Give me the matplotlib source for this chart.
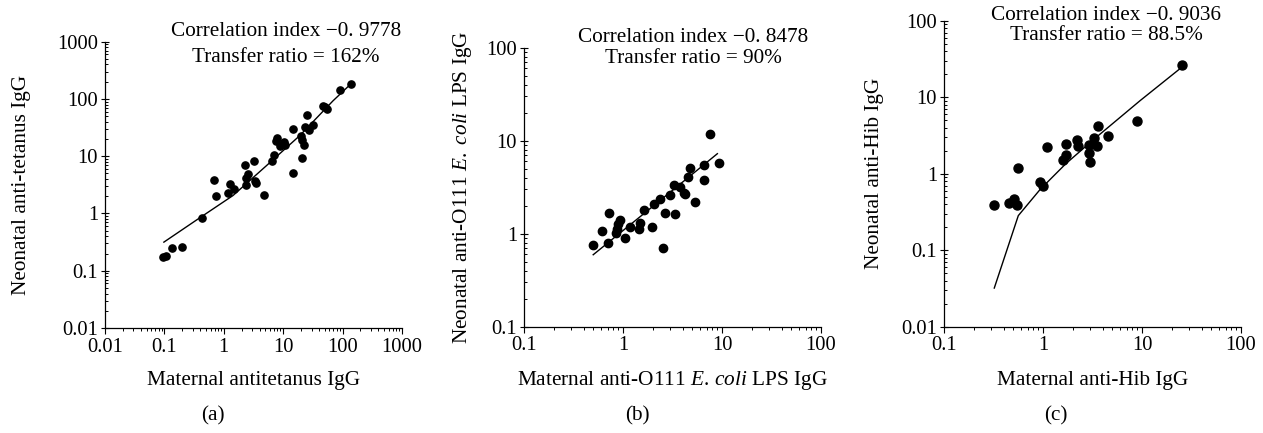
import numpy as np
import matplotlib
matplotlib.use("Agg")
import matplotlib.pyplot as plt
from matplotlib.ticker import LogLocator, NullFormatter

plt.rcParams['font.family'] = ['Liberation Serif', 'DejaVu Serif']
plt.rcParams['mathtext.fontset'] = 'custom'
plt.rcParams['mathtext.rm'] = 'Liberation Serif'
plt.rcParams['mathtext.it'] = 'Liberation Serif:italic'

# (a) tetanus
tet_mat = [0.095, 0.108, 0.136, 0.196, 0.43, 0.69, 0.73, 1.18, 1.26, 1.49,
           2.26, 2.32, 2.38, 2.57, 3.25, 3.33, 3.46, 4.72, 6.5, 7.05,
           7.5, 8.0, 8.8, 9.75, 10.2, 10.7, 14.7, 14.7, 19.8, 20.4,
           20.6, 22.3, 23.2, 25.3, 27.0, 32.1, 46, 50.2, 54.5, 90, 141]
tet_neo = [0.175, 0.18, 0.245, 0.255, 0.82, 3.8, 2.03, 2.3, 3.25, 2.66,
           6.9, 4.1, 3.1, 4.85, 8.3, 3.66, 3.43, 2.09, 8.2, 10.5,
           18.5, 20.9, 14.9, 16.2, 17.8, 15.5, 30.3, 5.1, 22.4, 19.0,
           9.2, 15.8, 32.5, 51.9, 29.2, 34.8, 76.5, 72.4, 67.8, 141, 180]
tet_fit_x = [0.098, 0.394, 1.43, 5.24, 19.0, 69.1, 137]
tet_fit_y = [0.316, 0.84, 2.06, 6.86, 22.9, 93, 182]

# (b) E. coli LPS
lps_mat = [0.50, 0.61, 0.70, 0.73, 0.84, 0.87, 0.90, 0.94, 1.05, 1.19,
           1.46, 1.47, 1.64, 1.96, 2.04, 2.34, 2.52, 2.63, 2.96, 3.24,
           3.37, 3.73, 4.10, 4.26, 4.54, 4.71, 5.38, 6.6, 6.6, 7.6, 9.25]
lps_neo = [0.75, 1.07, 0.80, 1.68, 1.03, 1.13, 1.28, 1.41, 0.90, 1.18,
           1.11, 1.30, 1.81, 1.18, 2.07, 2.36, 0.70, 1.67, 2.58, 3.31,
           1.64, 3.17, 2.74, 2.65, 4.07, 5.08, 2.19, 5.43, 3.75, 11.7, 5.75]
lps_fit_x = [0.50, 2.1, 8.98]
lps_fit_y = [0.594, 2.05, 7.25]

# (c) Hib
hib_mat = [0.322, 0.457, 0.513, 0.542, 0.563, 0.933, 1.01, 1.10, 1.60, 1.69,
           1.69, 2.19, 2.27, 2.92, 2.92, 3.01, 3.27, 3.51, 3.59, 4.57, 8.97, 25.5]
hib_neo = [0.385, 0.42, 0.467, 0.393, 1.19, 0.77, 0.70, 2.23, 1.52, 1.77,
           2.44, 2.72, 2.27, 2.39, 1.86, 1.42, 2.93, 2.32, 4.15, 3.14, 4.83, 26.3]
hib_fit_x = [0.322, 0.563, 0.933, 1.7, 3.3, 9.55, 24.2]
hib_fit_y = [0.032, 0.283, 0.62, 1.35, 2.85, 9.0, 23.6]

panels = [
    dict(x=tet_mat, y=tet_neo, fx=tet_fit_x, fy=tet_fit_y,
         xlim=(0.01, 1000), ylim=(0.01, 1000),
         xticks=[0.01, 0.1, 1, 10, 100, 1000], xlabels=['0.01', '0.1', '1', '10', '100', '1000'],
         yticks=[0.01, 0.1, 1, 10, 100, 1000], ylabels=['0.01', '0.1', '1', '10', '100', '1000'],
         xlabel='Maternal antitetanus IgG', ylabel='Neonatal anti-tetanus IgG',
         corr='Correlation index \u22120. 9778', ratio='Transfer ratio = 162%',
         tag='(a)', ms=5.2),
    dict(x=lps_mat, y=lps_neo, fx=lps_fit_x, fy=lps_fit_y,
         xlim=(0.1, 100), ylim=(0.1, 100),
         xticks=[0.1, 1, 10, 100], xlabels=['0.1', '1', '10', '100'],
         yticks=[0.1, 1, 10, 100], ylabels=['0.1', '1', '10', '100'],
         xlabel=r'Maternal anti-O111 $\mathit{E.\,coli}$ LPS IgG',
         ylabel=r'Neonatal anti-O111 $\mathit{E.\ coli}$ LPS IgG',
         corr='Correlation index \u22120. 8478', ratio='Transfer ratio = 90%',
         tag='(b)', ms=6.0),
    dict(x=hib_mat, y=hib_neo, fx=hib_fit_x, fy=hib_fit_y,
         xlim=(0.1, 100), ylim=(0.01, 100),
         xticks=[0.1, 1, 10, 100], xlabels=['0.1', '1', '10', '100'],
         yticks=[0.01, 0.1, 1, 10, 100], ylabels=['0.01', '0.1', '1', '10', '100'],
         xlabel='Maternal anti-Hib IgG', ylabel='Neonatal anti-Hib IgG',
         corr='Correlation index \u22120. 9036', ratio='Transfer ratio = 88.5%',
         tag='(c)', ms=6.5),
]

# axes boxes in pixels: left, top, right, bottom
W, H = 1263, 433
boxes = [(105, 41.7, 402, 328), (524, 47.7, 821, 326.7), (944, 20.7, 1241, 326.7)]
text_pos = [(286, 31, 57), (693, 37.5, 58.5), (1106, 15, 36)]
ylab_x = [22, 462, 875]
tag_x = [213, 637, 1056]

fig = plt.figure(figsize=(W / 100, H / 100), dpi=100)
fs = 15.3
tfs = 14.8

for p, (l, t, r, b), (tx, ty1, ty2), ylx, tgx in zip(panels, boxes, text_pos, ylab_x, tag_x):
    ax = fig.add_axes([l / W, 1 - b / H, (r - l) / W, (b - t) / H])
    ax.set_xscale('log')
    ax.set_yscale('log')
    ax.plot(p['x'], p['y'], 'o', color='black', ms=p['ms'], mec='black', zorder=3)
    ax.plot(p['fx'], p['fy'], '-', color='black', lw=1.0, zorder=2)
    ax.set_xlim(*p['xlim'])
    ax.set_ylim(*p['ylim'])
    ax.set_xticks(p['xticks'], labels=p['xlabels'])
    ax.set_yticks(p['yticks'], labels=p['ylabels'])
    for axis in (ax.xaxis, ax.yaxis):
        axis.set_minor_locator(LogLocator(base=10, subs=np.arange(2, 10)))
        axis.set_minor_formatter(NullFormatter())
    ax.spines['top'].set_visible(False)
    ax.spines['right'].set_visible(False)
    for s in ('left', 'bottom'):
        ax.spines[s].set_linewidth(0.9)
    ax.tick_params(axis='x', which='major', direction='out', length=4, width=0.8,
                   labelsize=tfs, pad=3)
    ax.tick_params(axis='x', which='minor', direction='out', length=2, width=0.7)
    ax.tick_params(axis='y', which='major', direction='inout', length=6, width=0.8,
                   labelsize=tfs, pad=2)
    ax.tick_params(axis='y', which='minor', direction='in', length=2.5, width=0.7)

    ax.set_xlabel(p['xlabel'], fontsize=fs)
    ax.xaxis.label.set_va('center')
    ax.xaxis.set_label_coords(0.5, -(380 - b) / (b - t))
    ax.set_ylabel(p['ylabel'], fontsize=fs)
    ax.yaxis.label.set_va('center')
    ax.yaxis.set_label_coords((ylx - l) / (r - l), 0.5)

    fig.text(tx / W, 1 - ty1 / H, p['corr'], ha='center', va='center', fontsize=fs)
    fig.text(tx / W, 1 - ty2 / H, p['ratio'], ha='center', va='center', fontsize=fs)
    fig.text(tgx / W, 1 - 416 / H, p['tag'], ha='center', va='center', fontsize=fs)

fig.savefig('out.png', dpi=100)
